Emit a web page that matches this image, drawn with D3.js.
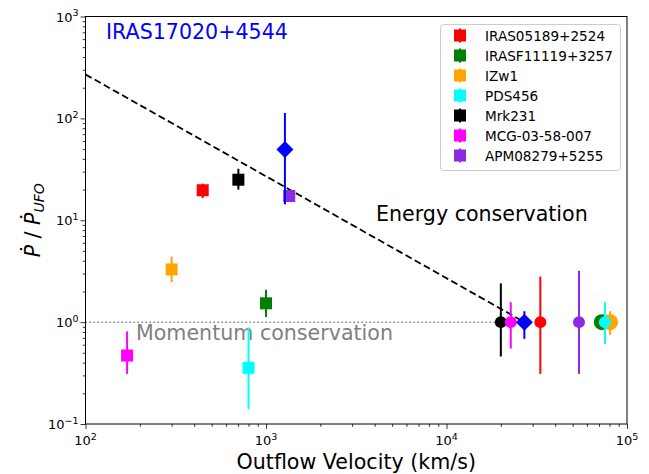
<!DOCTYPE html>
<html>
<head>
<meta charset="utf-8">
<script src="https://cdn.jsdelivr.net/npm/d3@7"></script>
<style>
  body { margin: 0; background: #fff; }
  svg { font-family: "DejaVu Sans", sans-serif; }
</style>
</head>
<body>
<div id="chart"></div>
<script>
// sources (legend order = draw order)
var names = ["IRAS05189+2524", "IRASF11119+3257", "IZw1", "PDS456", "Mrk231", "MCG-03-58-007", "APM08279+5255"];
var colors = ["#ff0000", "#008000", "#ffa500", "#00ffff", "#000000", "#ff00ff", "#8a2be2"];

// low-velocity outflows (squares)
var lowVel = [446, 1000, 300, 800, 703, 170, 1345];
var lowRatio = [19.7, 1.53, 3.29, 0.356, 25, 0.47, 17.3];
var lowHi = [22.9, 2.08, 4.4, 0.89, 32, 0.81, 17.3];
var lowLo = [16.5, 1.12, 2.47, 0.14, 20, 0.31, 17.3];

// UFOs (circles, ratio = 1)
var ufoVel = [33100, 72500, 80600, 75500, 20000, 22700, 54200];
var ufoRatio = [1, 1, 1, 1, 1, 1, 1];
var ufoHi = [2.8, 1.15, 1.28, 1.57, 2.4, 1.57, 3.2];
var ufoLo = [0.31, 0.87, 0.75, 0.61, 0.46, 0.55, 0.31];
var ufoR = [6, 8, 8, 6, 6, 6, 6];

// IRAS17020+4544 (blue diamonds)
var targetVel = [1273, 27000];
var targetRatio = [49.4, 1];
var targetHi = [113, 1.28];
var targetLo = [14.3, 0.685];

// guide lines
var energyX = [100, 27000];
var energyY = [270, 1];
var momentumX = [100, 27000];
var momentumY = [1, 1];

var xTicks = [1e2, 1e3, 1e4, 1e5];
var xExp = ["2", "3", "4", "5"];
var yTicks = [1e-1, 1e0, 1e1, 1e2, 1e3];
var yExp = ["\u22121", "0", "1", "2", "3"];

var W = 649, H = 474;
var L = 85.5, R = 627, T = 16.5, B = 424;

var svg = d3.select("#chart").append("svg")
    .attr("width", W).attr("height", H);

var x = d3.scaleLog().domain([100, 1e5]).range([L, R]);
var y = d3.scaleLog().domain([0.1, 1000]).range([B, T]);

// minor ticks
var xMinor = x.ticks().filter(function (v) { return xTicks.indexOf(v) < 0; });
var yMinor = y.ticks().filter(function (v) { return yTicks.map(function (t) { return +t.toPrecision(3); }).indexOf(+v.toPrecision(3)) < 0; });

svg.append("g").attr("transform", "translate(0," + B + ")")
    .call(d3.axisBottom(x).tickValues(xMinor).tickSize(2.8).tickFormat(""))
    .call(function (g) { g.select(".domain").remove(); });
svg.append("g").attr("transform", "translate(0," + B + ")")
    .call(d3.axisBottom(x).tickValues(xTicks).tickSize(4.9).tickFormat(""))
    .call(function (g) { g.select(".domain").remove(); });
svg.append("g").attr("transform", "translate(" + L + ",0)")
    .call(d3.axisLeft(y).tickValues(yMinor).tickSize(2.8).tickFormat(""))
    .call(function (g) { g.select(".domain").remove(); });
svg.append("g").attr("transform", "translate(" + L + ",0)")
    .call(d3.axisLeft(y).tickValues(yTicks).tickSize(4.9).tickFormat(""))
    .call(function (g) { g.select(".domain").remove(); });
svg.selectAll(".tick line").attr("stroke", "#000").attr("stroke-width", 0.8);

// tick labels with superscripts
xTicks.forEach(function (v, i) {
  var t = svg.append("text").attr("x", x(v)).attr("y", B + 21)
      .attr("text-anchor", "middle").attr("font-size", 13);
  t.append("tspan").text("10");
  t.append("tspan").attr("font-size", 9.5).attr("dy", -5.5).text(xExp[i]);
});
yTicks.forEach(function (v, i) {
  var t = svg.append("text").attr("x", L - 7).attr("y", y(v) + 5)
      .attr("text-anchor", "end").attr("font-size", 13);
  t.append("tspan").text("10");
  t.append("tspan").attr("font-size", 9.5).attr("dy", -5.5).text(yExp[i]);
});

var line = d3.line().x(function (d) { return x(d[0]); }).y(function (d) { return y(d[1]); });

// momentum conservation (dotted gray)
svg.append("path").datum(d3.zip(momentumX, momentumY)).attr("d", line)
    .attr("fill", "none").attr("stroke", "#808080").attr("stroke-width", 1.5)
    .attr("stroke-dasharray", "1.5,2.5");
// energy conservation (dashed black)
svg.append("path").datum(d3.zip(energyX, energyY)).attr("d", line)
    .attr("fill", "none").attr("stroke", "#000").attr("stroke-width", 1.8)
    .attr("stroke-dasharray", "7,3.5");

svg.append("text").attr("x", 376).attr("y", 221).attr("font-size", 20.6)
    .text("Energy conservation");
svg.append("text").attr("x", 136).attr("y", 340).attr("font-size", 20.6)
    .attr("fill", "#808080").text("Momentum conservation");

function errBar(xv, lo, hi, col) {
  svg.append("line").attr("x1", x(xv)).attr("x2", x(xv))
      .attr("y1", y(lo)).attr("y2", y(hi))
      .attr("stroke", col).attr("stroke-width", 2);
}

names.forEach(function (n, i) {
  errBar(lowVel[i], lowLo[i], lowHi[i], colors[i]);
  svg.append("rect").attr("x", x(lowVel[i]) - 6).attr("y", y(lowRatio[i]) - 6)
      .attr("width", 12).attr("height", 12).attr("fill", colors[i]);
  errBar(ufoVel[i], ufoLo[i], ufoHi[i], colors[i]);
  svg.append("circle").attr("cx", x(ufoVel[i])).attr("cy", y(ufoRatio[i]))
      .attr("r", ufoR[i]).attr("fill", colors[i]);
});

targetVel.forEach(function (v, i) {
  errBar(v, targetLo[i], targetHi[i], "#0000ff");
  var cx = x(v), cy = y(targetRatio[i]), s = 8.5;
  svg.append("path")
      .attr("d", "M" + cx + "," + (cy - s) + "L" + (cx + s) + "," + cy + "L" + cx + "," + (cy + s) + "L" + (cx - s) + "," + cy + "Z")
      .attr("fill", "#0000ff");
});

// frame
svg.append("rect").attr("x", L).attr("y", T).attr("width", R - L).attr("height", B - T)
    .attr("fill", "none").attr("stroke", "#000").attr("stroke-width", 1);

svg.append("text").attr("x", 106).attr("y", 39).attr("font-size", 20.6)
    .attr("fill", "#0000ff").text("IRAS17020+4544");

// legend
var lg = svg.append("g");
lg.append("rect").attr("x", 440.5).attr("y", 24.5).attr("width", 180).attr("height", 146)
    .attr("rx", 3).attr("fill", "#fff").attr("fill-opacity", 0.8)
    .attr("stroke", "#cccccc").attr("stroke-width", 1);
names.forEach(function (n, i) {
  var cy = 35.5 + i * 20;
  lg.append("line").attr("x1", 460).attr("x2", 460).attr("y1", cy - 7).attr("y2", cy + 7)
      .attr("stroke", colors[i]).attr("stroke-width", 2);
  lg.append("rect").attr("x", 454).attr("y", cy - 6).attr("width", 12).attr("height", 12)
      .attr("fill", colors[i]);
  lg.append("text").attr("x", 485).attr("y", cy + 5).attr("font-size", 13.6).text(n);
});

// axis labels
svg.append("text").attr("x", (L + R) / 2).attr("y", 469).attr("text-anchor", "middle")
    .attr("font-size", 20.6).text("Outflow Velocity (km/s)");
var yl = svg.append("text").attr("transform", "translate(40," + ((T + B) / 2) + ") rotate(-90)")
    .attr("text-anchor", "middle").attr("font-size", 20.6);
yl.append("tspan").attr("font-style", "italic").text("\u1E56");
yl.append("tspan").text(" / ");
yl.append("tspan").attr("font-style", "italic").text("\u1E56");
yl.append("tspan").attr("font-style", "italic").attr("font-size", 14).attr("dy", 4).text("UFO");
</script>
</body>
</html>
